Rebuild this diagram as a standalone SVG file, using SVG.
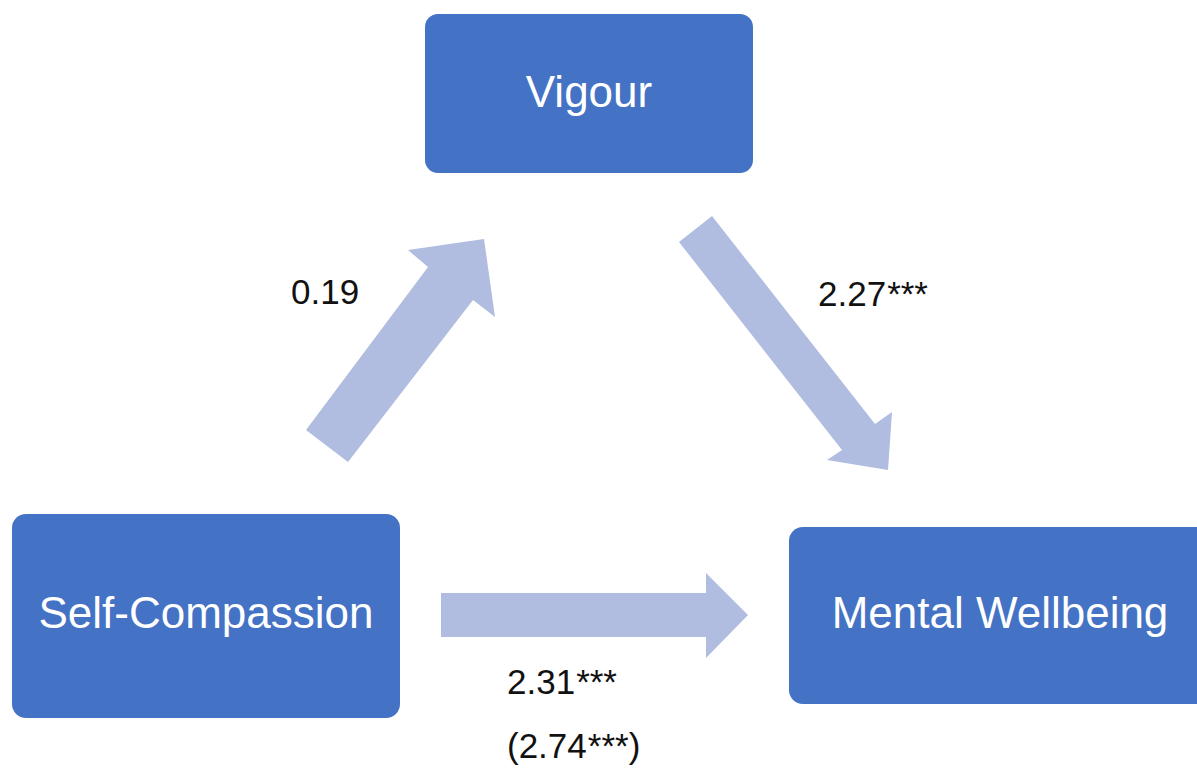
<svg xmlns="http://www.w3.org/2000/svg" width="1197" height="771" viewBox="0 0 1197 771">
<style>
.box{fill:#4472C4;}
.nt{font-family:"Liberation Sans",Arial,sans-serif;font-size:44px;fill:#ffffff;text-anchor:middle;}
.arr{fill:#B0BDE0;}
.lb{font-family:"Liberation Sans",Arial,sans-serif;font-size:35px;fill:#111111;}
</style>
<rect width="1197" height="771" fill="#ffffff"/>
<g id="connectors">
<polygon class="arr" points="306,430 428,267 408,250 484,239 495,317 473,300 348,462"/>
<polygon class="arr" points="712,216 875,424 892,412 888,470 827,460 842,450 679,242"/>
<polygon class="arr" points="441,593 706,593 706,573 748,615 706,658 706,637 441,637"/>
<text class="lb" x="291" y="304">0.19</text>
<text class="lb" x="818" y="306">2.27<tspan dx="1">***</tspan></text>
<text class="lb" x="507" y="694">2.31<tspan dx="1">***</tspan></text>
<text class="lb" x="507" y="758">(2.74<tspan dx="1">***</tspan>)</text>
</g>
<g id="vigour">
<rect class="box" x="425" y="14" width="328" height="159" rx="13"/>
<text class="nt" x="589" y="107">Vigour</text>
</g>
<g id="self-compassion">
<rect class="box" x="12" y="514" width="388" height="204" rx="14"/>
<text class="nt" x="206" y="628">Self-Compassion</text>
</g>
<g id="mental-wellbeing">
<rect class="box" x="789" y="527" width="422" height="177" rx="14"/>
<text class="nt" x="1000" y="628">Mental Wellbeing</text>
</g>
</svg>
